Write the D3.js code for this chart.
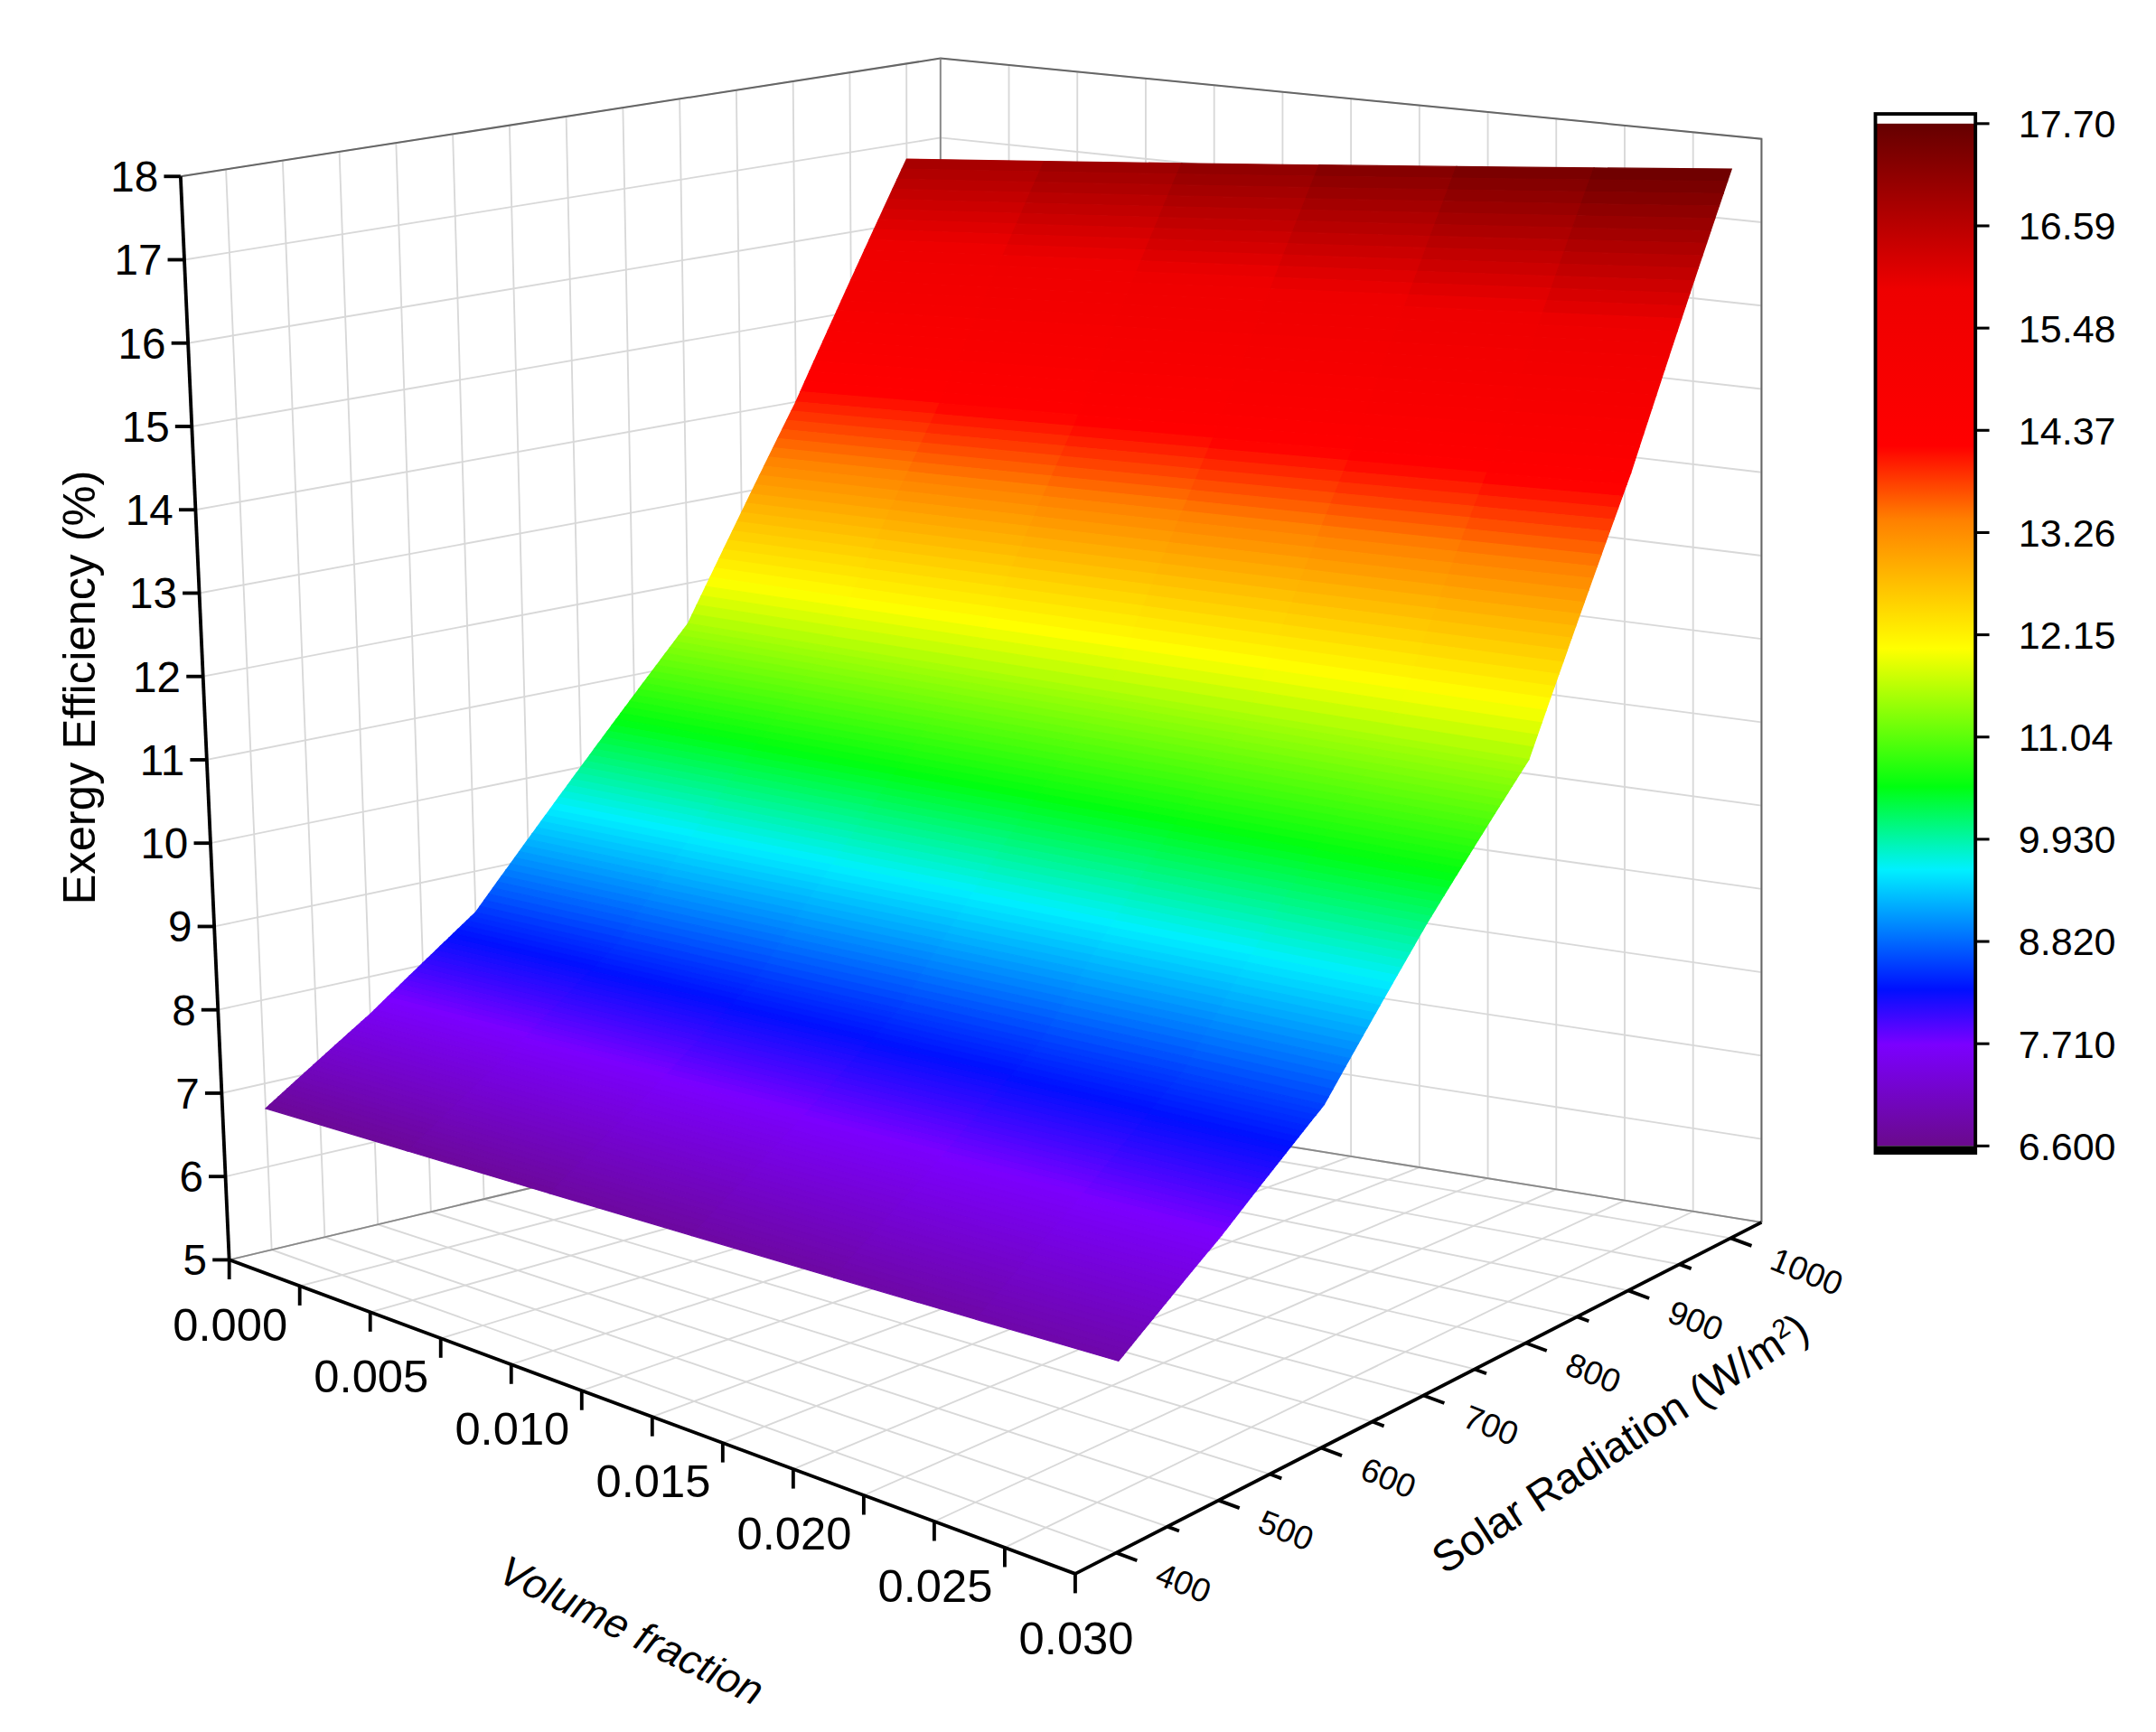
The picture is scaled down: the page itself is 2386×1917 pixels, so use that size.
<!DOCTYPE html>
<html><head><meta charset="utf-8">
<script src="https://cdn.jsdelivr.net/npm/d3@7"></script>
<style>body{margin:0;background:#fff}</style>
</head><body><svg width="2386" height="1917"></svg>
<script>
// data
const volumeFraction = [0, 0.005, 0.010, 0.015, 0.020, 0.025, 0.030];
const radiation = [400, 500, 600, 700, 800, 900, 1000];
// exergy efficiency (%) per radiation row, at volume fraction 0 and 0.030
const effAtPhi0 = [6.70, 7.55, 8.50, 10.00, 11.50, 14.00, 16.80];
const effAtPhi3 = [6.90, 7.70, 8.60, 10.10, 11.50, 14.40, 17.70];
const zTicks = [5,6,7,8,9,10,11,12,13,14,15,16,17,18];
const xTicks = [0, 0.005, 0.010, 0.015, 0.020, 0.025, 0.030];
const yTicks = [400, 500, 600, 700, 800, 900, 1000];
const cbTicks = ["6.600","7.710","8.820","9.930","11.04","12.15","13.26","14.37","15.48","16.59","17.70"];
const cmapStops = [6.6, 7.7, 8.3, 9.6, 10.5, 12.0, 13.4, 14.2, 15.9, 17.7];
const cmapColors = ["#6a0a8c","#7b00ff","#0010ff","#00f0ff","#00ff10","#ffff00","#ff8000","#ff0000","#ee0000","#650000"];

const svg = d3.select("svg");
const g = svg.append("g").attr("transform","scale(1.5374)");
const font = "Liberation Sans, Arial, sans-serif";

const xs = d3.scaleLinear().domain([0,0.03]).range([0,1]);
const ys = d3.scaleLinear().domain([360,1030]).range([0,1]);
const zs = d3.scaleLinear().domain([5,18]).range([0,1]);
const color = d3.scaleLinear().domain(cmapStops).range(cmapColors).clamp(true);

// corners of box in pixel space [x][y][z]
const C = {
  "000":[165,907],"100":[774,1133],"110":[1268,880],"010":[677,785],
  "001":[130,127],"101":[786,178],"111":[1268,100],"011":[677,42]
};
function P(u,v,w){
  const l=(a,b,t)=>[a[0]+(b[0]-a[0])*t,a[1]+(b[1]-a[1])*t];
  const c00=l(C["000"],C["100"],u), c10=l(C["010"],C["110"],u);
  const c01=l(C["001"],C["101"],u), c11=l(C["011"],C["111"],u);
  return l(l(c00,c10,v), l(c01,c11,v), w);
}
const p3=(x,y,z)=>P(xs(x),ys(y),zs(z));
const line=d3.line();
const grid="#d8d8d8";
const [yLo,yHi]=ys.domain();

// walls grid
const yMinor=[yLo].concat(d3.range(400,1001,50),[yHi]), xMinor=d3.range(0,0.0301,0.0025);
zTicks.forEach(z=>{
  g.append("path").attr("d",line([p3(0,yLo,z),p3(0,yHi,z),p3(0.03,yHi,z)])).attr("fill","none").attr("stroke",grid).attr("stroke-width",1.2);
});
yMinor.forEach(y=>{
  g.append("path").attr("d",line([p3(0.03,y,5),p3(0,y,5),p3(0,y,18)])).attr("fill","none").attr("stroke",grid).attr("stroke-width",1.2);
});
xMinor.forEach(x=>{
  g.append("path").attr("d",line([p3(x,yLo,5),p3(x,yHi,5),p3(x,yHi,18)])).attr("fill","none").attr("stroke",grid).attr("stroke-width",1.2);
});
// box edges (back)
g.append("path").attr("d",line([p3(0,yLo,18),p3(0,yHi,18),p3(0.03,yHi,18),p3(0.03,yHi,5)])).attr("fill","none").attr("stroke","#666").attr("stroke-width",1.3);
g.append("path").attr("d",line([p3(0,yHi,18),p3(0,yHi,5)])).attr("fill","none").attr("stroke","#888").attr("stroke-width",1.2);
g.append("path").attr("d",line([p3(0,yLo,5),p3(0,yHi,5),p3(0.03,yHi,5)])).attr("fill","none").attr("stroke","#888").attr("stroke-width",1.2);

// surface
const effAt=(i,x)=>effAtPhi0[i]+(effAtPhi3[i]-effAtPhi0[i])*x/0.03;
const sub=24;
const cells=[];
for(let i=0;i<radiation.length-1;i++){
  for(let k=0;k<sub;k++){
    const t0=k/sub,t1=(k+1)/sub;
    const y0=radiation[i]+(radiation[i+1]-radiation[i])*t0, y1=radiation[i]+(radiation[i+1]-radiation[i])*t1;
    for(let j=0;j<volumeFraction.length-1;j++){
      const xa=volumeFraction[j], xb=volumeFraction[j+1];
      const z=(x,t)=>effAt(i,x)+(effAt(i+1,x)-effAt(i,x))*t;
      const pts=[p3(xa,y0,z(xa,t0)),p3(xb,y0,z(xb,t0)),p3(xb,y1,z(xb,t1)),p3(xa,y1,z(xa,t1))];
      const zm=(z(xa,t0)+z(xb,t1))/2;
      cells.push({pts,zm,y:y0});
    }
  }
}
g.append("g").selectAll("path").data(cells.sort((a,b)=>b.y-a.y)).join("path")
  .attr("d",d=>line(d.pts)+"Z").attr("fill",d=>color(d.zm)).attr("stroke",d=>color(d.zm)).attr("stroke-width",0.8);

// z axis
g.append("path").attr("d",line([p3(0,yLo,5),p3(0,yLo,18)])).attr("stroke","#000").attr("stroke-width",2.5);
zTicks.forEach(z=>{
  const p=p3(0,yLo,z);
  g.append("line").attr("x1",p[0]).attr("y1",p[1]).attr("x2",p[0]-12).attr("y2",p[1]).attr("stroke","#000").attr("stroke-width",2.5);
  g.append("text").attr("x",p[0]-16).attr("y",p[1]+11).attr("text-anchor","end").attr("font-family",font).attr("font-size",31).text(z);
});
g.append("text").attr("transform","translate(68,495) rotate(-90)").attr("text-anchor","middle").attr("font-family",font).attr("font-size",33).text("Exergy Efficiency (%)");

// x axis
g.append("path").attr("d",line([p3(0,yLo,5),p3(0.03,yLo,5)])).attr("stroke","#000").attr("stroke-width",2.5);
xMinor.forEach(x=>{
  const a=p3(x,yLo,5);
  g.append("line").attr("x1",a[0]).attr("y1",a[1]).attr("x2",a[0]).attr("y2",a[1]+14).attr("stroke","#000").attr("stroke-width",2.5);
});
xTicks.forEach(x=>{
  const p=p3(x,yLo,5);
  g.append("text").attr("x",p[0]+42).attr("y",p[1]+58).attr("text-anchor","end").attr("font-family",font).attr("font-size",33).text(d3.format(".3f")(x));
});
g.append("text").attr("transform","translate(450,1183) rotate(26)").attr("text-anchor","middle").attr("font-family",font).attr("font-style","italic").attr("font-size",30).text("Volume fraction");

// y axis (ticks point away along the front edge direction)
const ux=0.937, uy=0.348;
g.append("path").attr("d",line([p3(0.03,yLo,5),p3(0.03,yHi,5)])).attr("stroke","#000").attr("stroke-width",2.5);
d3.range(400,1001,50).forEach(y=>{
  const a=p3(0.03,y,5), len=y%100?9:16;
  g.append("line").attr("x1",a[0]).attr("y1",a[1]).attr("x2",a[0]+ux*len).attr("y2",a[1]+uy*len).attr("stroke","#000").attr("stroke-width",2.5);
});
yTicks.forEach(y=>{
  const p=p3(0.03,y,5);
  g.append("text").attr("transform",`translate(${p[0]+30},${p[1]+14}) rotate(22)`).attr("font-family",font).attr("font-size",24).attr("dy","0.35em").text(y);
});
const yt=g.append("text").attr("transform","translate(1172,1048) rotate(-33)").attr("text-anchor","middle").attr("font-family",font).attr("font-size",31);
yt.append("tspan").text("Solar Radiation (W/m");
yt.append("tspan").attr("baseline-shift","super").attr("font-size",19).text("2");
yt.append("tspan").text(")");

// colorbar
const cbY=d3.scaleLinear().domain([6.6,17.7]).range([825,89]);
const defs=svg.append("defs");
const grad=defs.append("linearGradient").attr("id","cb").attr("x1",0).attr("y1",1).attr("x2",0).attr("y2",0);
cmapStops.forEach((s,i)=>grad.append("stop").attr("offset",(s-6.6)/11.1).attr("stop-color",cmapColors[i]));
g.append("rect").attr("x",1350).attr("y",cbY(17.7)).attr("width",72).attr("height",cbY(6.6)-cbY(17.7)).attr("fill","url(#cb)");
g.append("rect").attr("x",1350).attr("y",82).attr("width",72).attr("height",830-82).attr("fill","none").attr("stroke","#000").attr("stroke-width",2.5);
g.append("rect").attr("x",1350).attr("y",825).attr("width",72).attr("height",5).attr("fill","#000");
cbTicks.forEach(t=>{
  const y=cbY(+t);
  g.append("line").attr("x1",1422).attr("x2",1432).attr("y1",y).attr("y2",y).attr("stroke","#000").attr("stroke-width",2);
  g.append("text").attr("x",1453).attr("y",y+10).attr("font-family",font).attr("font-size",28).text(t);
});
</script></body></html>
